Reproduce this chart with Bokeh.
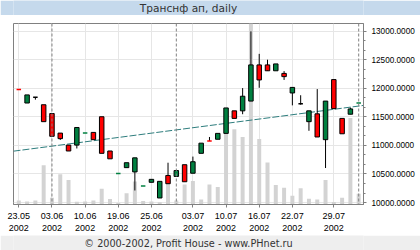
from bokeh.plotting import figure
from bokeh.models import Range1d, FixedTicker, PrintfTickFormatter, Span, Label
from bokeh.layouts import column
from bokeh.embed import file_html
from bokeh.resources import INLINE

# ---- data ----
title_text = "Транснф ап, daily"
footer_text = "© 2000-2002, Profit House - www.PHnet.ru"

tick_pos = [0, 4, 8, 12, 16, 21, 25, 29, 33, 38]
tick_days = ["23.05", "03.06", "10.06", "19.06", "25.06", "03.07", "10.07", "16.07", "22.07", "29.07"]
tick_year = "2002"
month_starts = [4, 19, 41]

opens = [11982, 11741, 11840, 11711, 11557, 11215, 11005, 11005, 11213, 11227,
         11501, 10902, 10506, 10611, 10536, 10284, 10354, 10080, 10474, 10457,
         10662, 10513, 10861, 11080, 11107, 11210, 11604, 11604, 11775, 12408,
         12408, 12305, 12259, 11917, 11729, 11415, 11552, 11100, 12151, 11472,
         11545, 11739]
closes = [11978, 11883, 11840, 11415, 11159, 11118, 10902, 11313, 11217, 11100,
          10861, 10765, 10510, 10697, 10782, 10288, 10406, 10371, 10330, 10560,
          10364, 10714, 11039, 11076, 11210, 11655, 11472, 11860, 12408, 12145,
          12305, 12425, 12203, 12014, 11729, 11604, 11147, 11775, 11643, 11203,
          11638, 11743]
highs = [11982, 11883, 11840, 11711, 11557, 11215, 11005, 11313, 11217, 11227,
         11501, 10902, 10510, 10697, 10782, 10288, 10406, 10371, 10697, 10560,
         10662, 10804, 11039, 11147, 11210, 11655, 11604, 12002, 12995, 12601,
         12499, 12425, 12299, 12014, 11877, 11604, 11985, 11775, 12151, 11472,
         11660, 11743]
lows = [11978, 11741, 11800, 11415, 11159, 11095, 10902, 10946, 11213, 11100,
        10861, 10765, 10506, 10611, 10211, 10284, 10354, 10080, 10330, 10457,
        10364, 10513, 10861, 11076, 11107, 11210, 11472, 11545, 11775, 12008,
        12305, 12305, 12145, 11700, 11712, 11255, 11147, 10604, 11643, 11203,
        11545, 11739]
volumes = [4, 3, 4, 40, 7, 31, 25, 2.7, 3, 4, 16, 5.5, 1.5, 11.5, 23.5, 3.5, 3, 2.3, 21, 4,
           20.5, 24, 5, 20.5, 18, 89.5, 77, 69, 200, 67, 43, 20, 17, 9, 16.5, 6, 5, 25, 2.5, 7,
           88.5, 11]
trend_first = 10911
trend_last = 11688

# ---- derived ----
n = len(opens)
idx = list(range(n))
GREEN, RED, BLACK = "#008040", "#ff0000", "#000000"

def col(o, c):
    return GREEN if c > o else (RED if c < o else BLACK)

body_i = [i for i in idx if abs(closes[i] - opens[i]) >= 10]
doji_i = [i for i in idx if abs(closes[i] - opens[i]) < 10]
wick_i = [i for i in idx if highs[i] > max(opens[i], closes[i]) or lows[i] < min(opens[i], closes[i])]


def bar_figure(h, bg, text, size):
    f = figure(width=420, height=h, x_range=Range1d(0, 1), y_range=Range1d(0, 1),
               output_backend="svg", toolbar_location=None, min_border=0,
               background_fill_color=bg, border_fill_color=bg)
    f.axis.visible = False
    f.grid.visible = False
    f.outline_line_color = None
    f.add_layout(Label(x=0.5, y=0.5, text=text, text_align="center", text_baseline="middle",
                       text_font="DejaVu Sans", text_font_size=size, text_color="#333333"))
    return f


title_fig = bar_figure(15, "#c5d9ec", title_text, "10.6px")
footer_fig = bar_figure(15, "#eeeeee", footer_text, "9.7px")

x_lo, x_hi = -0.64, 41.58
p = figure(width=420, height=220, x_range=Range1d(x_lo, x_hi), y_range=Range1d(9966, 13132),
           y_axis_location="right", output_backend="svg", toolbar_location=None,
           min_border_left=13, min_border_top=8, min_border_right=57, min_border_bottom=27,
           background_fill_color="white", border_fill_color="white")
p.outline_line_color = "#808080"
p.outline_line_width = 1

# axes
ya = p.yaxis[0]
ya.ticker = FixedTicker(ticks=[10000, 10500, 11000, 11500, 12000, 12500, 13000],
                        minor_ticks=[9833.33 + 166.667 * k for k in range(21)])
ya.formatter = PrintfTickFormatter(format="%.4f")
ya.axis_line_color = "#808080"
ya.major_tick_line_color = "#808080"
ya.minor_tick_line_color = "#808080"
ya.major_tick_in = 0
ya.major_tick_out = 3
ya.minor_tick_in = 0
ya.minor_tick_out = 2
ya.major_label_standoff = 5
ya.major_label_text_font = "Liberation Sans"
ya.major_label_text_font_size = "8.2px"
ya.major_label_text_color = "#000000"

xa = p.xaxis[0]
xa.ticker = FixedTicker(ticks=tick_pos)
xa.major_label_overrides = {pos: f"{d}\n{tick_year}" for pos, d in zip(tick_pos, tick_days)}
xa.axis_line_color = "#808080"
xa.major_tick_line_color = "#808080"
xa.minor_tick_line_color = None
xa.major_tick_in = 0
xa.major_tick_out = 3
xa.major_label_standoff = 3
xa.major_label_text_font = "Liberation Sans"
xa.major_label_text_font_size = "9px"
xa.major_label_text_color = "#000000"

p.xgrid.ticker = FixedTicker(ticks=tick_pos)
p.xgrid.grid_line_color = "#e6e6e6"
p.ygrid.grid_line_color = "#e6e6e6"

# volume
p.extra_y_ranges = {"vol": Range1d(0, 185)}
p.vbar(x=idx, top=volumes, bottom=0, width=0.48, y_range_name="vol",
       fill_color="#d3d3d3", line_color=None)

# month separators
for m in month_starts:
    p.add_layout(Span(location=m, dimension="height", line_color="#808080",
                      line_dash="3 2", line_width=1))

# trend line
slope = (trend_last - trend_first) / (n - 1)
p.line(x=[x_lo, x_hi], y=[trend_first + slope * x_lo, trend_first + slope * x_hi],
       line_color="#2e7d7d", line_width=1, line_dash="7 2")

# wicks
p.segment(x0=wick_i, x1=wick_i, y0=[lows[i] for i in wick_i], y1=[highs[i] for i in wick_i],
          line_color="black", line_width=1)
# bodies
p.vbar(x=body_i, width=0.54,
       top=[max(opens[i], closes[i]) for i in body_i],
       bottom=[min(opens[i], closes[i]) for i in body_i],
       fill_color=[col(opens[i], closes[i]) for i in body_i], line_color="black", line_width=1)
# dojis
p.segment(x0=[i - 0.27 for i in doji_i], x1=[i + 0.27 for i in doji_i],
          y0=[closes[i] for i in doji_i], y1=[closes[i] for i in doji_i],
          line_color=[col(opens[i], closes[i]) for i in doji_i], line_width=1.5)

layout = column(title_fig, p, footer_fig, spacing=0)
open("out.html", "w").write(file_html(layout, INLINE))
